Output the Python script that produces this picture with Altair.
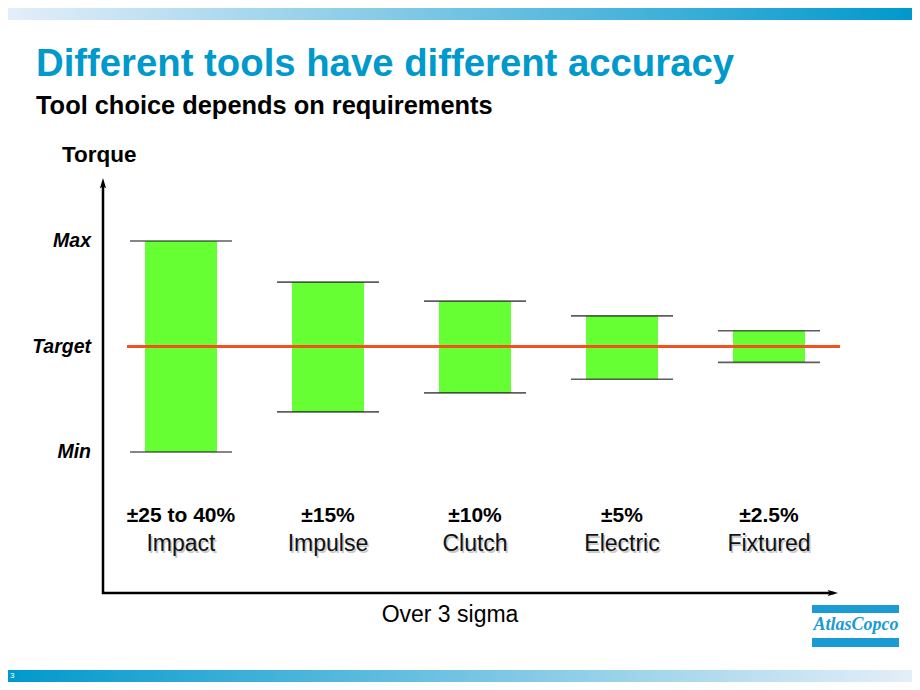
import altair as alt
import pandas as pd

# ---------------- data ----------------
tools = ["Impact", "Impulse", "Clutch", "Electric", "Fixtured"]
spec_labels = ["±25 to 40%", "±15%", "±10%", "±5%", "±2.5%"]
upper = [100, 61, 43, 29, 15]
lower = [-100, -62, -44, -31, -15]
ref_values = [100, 0, -100]
ref_labels = ["Max", "Target", "Min"]
title_text = ["Different tools have different accuracy"]
subtitle_text = ["Tool choice depends on requirements"]
y_title = ["Torque"]
x_title = ["Over 3 sigma"]
logo_text = ["AtlasCopco"]
page_number = ["3"]

# ---------------- layout / style ----------------
W, H = 904, 674
FONT = "Liberation Sans"
BLUE = "#0099cc"
LOGO_BLUE = "#1a9bd1"
GREEN = "#66ff33"
ORANGE = "#f4511e"

tools_df = pd.DataFrame({"tool": tools, "spec": spec_labels, "upper": upper, "lower": lower})
ref_df = pd.DataFrame({"value": ref_values, "label": ref_labels})


def one(text):
    return pd.DataFrame({"t": text})


x_scale = alt.Scale(type="point", domain=tools, range=[173, 761], padding=0)
y_scale = alt.Scale(domain=[-100, 100], range=[444, 233], nice=False, zero=False)
X = alt.X("tool:N", scale=x_scale, axis=None)

grad_top = alt.Gradient(
    gradient="linear",
    stops=[alt.GradientStop(color="#e4eef9", offset=0), alt.GradientStop(color="#0099cc", offset=1)],
    x1=0, x2=1, y1=0, y2=0,
)
grad_bottom = alt.Gradient(
    gradient="linear",
    stops=[alt.GradientStop(color="#0099cc", offset=0), alt.GradientStop(color="#e4eef9", offset=1)],
    x1=0, x2=1, y1=0, y2=0,
)

top_band = alt.Chart(one([""])).mark_rect(color=grad_top).encode(
    x=alt.value(0), x2=alt.value(W), y=alt.value(0), y2=alt.value(12)
)
bottom_band = alt.Chart(one([""])).mark_rect(color=grad_bottom).encode(
    x=alt.value(0), x2=alt.value(W), y=alt.value(662), y2=alt.value(674)
)
page_num = alt.Chart(one(page_number)).mark_text(
    font=FONT, fontSize=8, color="white", align="left", baseline="middle"
).encode(x=alt.value(2), y=alt.value(668), text="t:N")

title = alt.Chart(one(title_text)).mark_text(
    font=FONT, fontSize=38.3, fontWeight="bold", color=BLUE, align="left", baseline="alphabetic"
).encode(x=alt.value(28), y=alt.value(68), text="t:N")
subtitle = alt.Chart(one(subtitle_text)).mark_text(
    font=FONT, fontSize=25.4, fontWeight="bold", color="black", align="left", baseline="alphabetic"
).encode(x=alt.value(28), y=alt.value(106), text="t:N")
ytitle = alt.Chart(one(y_title)).mark_text(
    font=FONT, fontSize=22.5, fontWeight="bold", color="black", align="left", baseline="alphabetic"
).encode(x=alt.value(54), y=alt.value(154), text="t:N")
xtitle = alt.Chart(one(x_title)).mark_text(
    font=FONT, fontSize=23, color="black", align="center", baseline="alphabetic"
).encode(x=alt.value(442), y=alt.value(614), text="t:N")

# axes with arrows
arrow_path = "M0,-1L0.5,0.7L0,0.4L-0.5,0.7Z"
y_axis_line = alt.Chart(one([""])).mark_rule(color="black", strokeWidth=2.5).encode(
    x=alt.value(95), y=alt.value(178), y2=alt.value(586)
)
x_axis_line = alt.Chart(one([""])).mark_rule(color="black", strokeWidth=2.5).encode(
    x=alt.value(94), x2=alt.value(826), y=alt.value(585)
)
y_arrow = alt.Chart(one([""])).mark_point(
    shape=arrow_path, filled=True, size=150, color="black", opacity=1
).encode(x=alt.value(95), y=alt.value(176))
x_arrow = alt.Chart(one([""])).mark_point(
    shape=arrow_path, filled=True, size=150, color="black", opacity=1, angle=90
).encode(x=alt.value(824), y=alt.value(585))

ref_text = alt.Chart(ref_df).mark_text(
    font=FONT, fontSize=19.5, fontWeight="bold", fontStyle="italic", color="black",
    align="right", baseline="middle"
).encode(x=alt.value(83), y=alt.Y("value:Q", scale=y_scale, axis=None), text="label:N")

bars = alt.Chart(tools_df).mark_bar(size=72, color=GREEN).encode(
    x=X, y=alt.Y("upper:Q", scale=y_scale, axis=None), y2="lower:Q"
)
cap_top = alt.Chart(tools_df).mark_tick(size=102, thickness=1.6, color="#1a1a1a").encode(
    x=X, y=alt.Y("upper:Q", scale=y_scale, axis=None)
)
cap_bottom = alt.Chart(tools_df).mark_tick(size=102, thickness=1.6, color="#1a1a1a").encode(
    x=X, y=alt.Y("lower:Q", scale=y_scale, axis=None)
)
target_line = alt.Chart(ref_df).transform_filter("datum.label == 'Target'").mark_rule(
    color=ORANGE, strokeWidth=3
).encode(x=alt.value(119), x2=alt.value(832), y=alt.Y("value:Q", scale=y_scale, axis=None))

spec_text = alt.Chart(tools_df).mark_text(
    font=FONT, fontSize=21, fontWeight="bold", color="black", align="center", baseline="alphabetic"
).encode(x=X, y=alt.value(514), text="spec:N")
name_shadow = alt.Chart(tools_df).mark_text(
    font=FONT, fontSize=23, color="#c8c8c8", align="center", baseline="alphabetic", dx=1.5, dy=1.5
).encode(x=X, y=alt.value(543), text="tool:N")
name_text = alt.Chart(tools_df).mark_text(
    font=FONT, fontSize=23, color="#111111", align="center", baseline="alphabetic"
).encode(x=X, y=alt.value(543), text="tool:N")

logo_bar1 = alt.Chart(one([""])).mark_rect(color=LOGO_BLUE).encode(
    x=alt.value(804), x2=alt.value(891), y=alt.value(597), y2=alt.value(605)
)
logo_bar2 = alt.Chart(one([""])).mark_rect(color=LOGO_BLUE).encode(
    x=alt.value(804), x2=alt.value(891), y=alt.value(630), y2=alt.value(639)
)
logo = alt.Chart(one(logo_text)).mark_text(
    font="Liberation Serif", fontSize=18, fontWeight="bold", fontStyle="italic",
    color=LOGO_BLUE, align="center", baseline="middle"
).encode(x=alt.value(848), y=alt.value(617), text="t:N")

chart = alt.layer(
    top_band, bottom_band, page_num,
    title, subtitle, ytitle, xtitle,
    bars, target_line, cap_top, cap_bottom,
    y_axis_line, x_axis_line, y_arrow, x_arrow,
    ref_text, spec_text, name_shadow, name_text,
    logo_bar1, logo_bar2, logo,
).properties(
    width=W, height=H, autosize=alt.AutoSizeParams(type="none"), padding=0, background="white"
).configure_view(stroke=None)

chart.save("out.html", embed_options={"renderer": "svg", "actions": False})
